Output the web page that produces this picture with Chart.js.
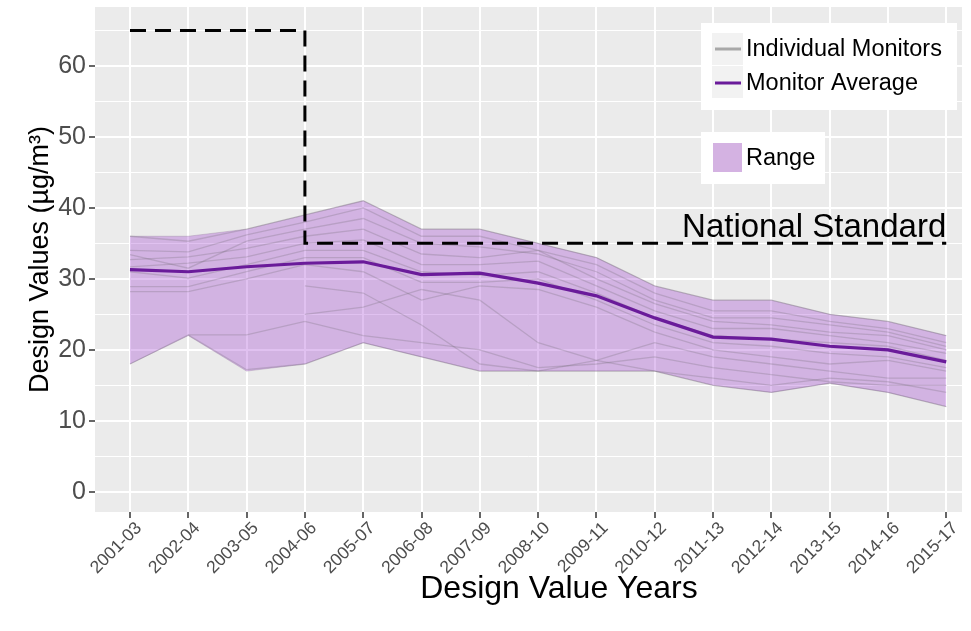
<!DOCTYPE html>
<html>
<head>
<meta charset="utf-8">
<script src="https://cdn.jsdelivr.net/npm/chart.js@4"></script>
<style>
  html, body { margin: 0; padding: 0; background: #fff; }
  #wrap { width: 971px; height: 631px; }
</style>
</head>
<body>
<div id="wrap"><canvas id="chart" width="971" height="631"></canvas></div>
<script>
const categories = ['2001-03', '2002-04', '2003-05', '2004-06', '2005-07', '2006-08', '2007-09', '2008-10',
  '2009-11', '2010-12', '2011-13', '2012-14', '2013-15', '2014-16', '2015-17'];

const monitorAverage = [31.3, 31.0, 31.7, 32.2, 32.4, 30.6, 30.8, 29.4, 27.6, 24.5, 21.8, 21.5, 20.5, 20.0, 18.3];
const rangeMax = [36, 36, 37, 39, 41, 37, 37, 35, 33, 29, 27, 27, 25, 24, 22];
const rangeMin = [18, 22, 17, 18, 21, 19, 17, 17, 17, 17, 15, 14, 15.3, 14, 12];
const nationalStandard = [65, 65, 65, 65, 35, 35, 35, 35, 35, 35, 35, 35, 35, 35, 35];

// individual monitors (null = no design value that period)
const monitor1 = [36, 35.3, 37, 39, 41, 37, 37, 35, 33, 29, 27, 27, 25, 24, 22];
const monitor2 = [34, 33.8, 36.2, 38, 40, 36, 36, 34, 32, 28, 25.5, 25.5, 24, 23, 21];
const monitor3 = [33.4, 31.5, 35.3, 37, 38.5, 35, 34.5, 33.5, 31, 27, 24.5, 24.5, 23.5, 22.5, 20.5];
const monitor4 = [32.7, 33.1, 34.3, 36, 37, 33.5, 33, 34, 30, 26.5, 24, 23.5, 22.5, 22, 20];
const monitor5 = [31.7, 32.2, 33.1, 35, 35.5, 32, 32, 32.5, 29, 25.5, 23, 23, 22, 21, 19.5];
const monitor6 = [31, 30.1, 32, 34, 34, 31, 30.5, 31, 28, 24.5, 22, 21.5, 21, 20.5, 18.5];
const monitor7 = [28.9, 28.9, 31, 33, 33, 29.5, 29.5, 30, 27, 23.5, 21, 20.5, 19.5, 19, 17.5];
const monitor8 = [28.2, 28.2, 30, 32, 31, 27, 29, 28.5, 26, 22.5, 20, 19, 18, 18.5, 17];
const monitor9 = [null, 22.1, 22.1, 24, 22, 21, 20, 17.5, 18, 19, 17.5, 16.5, 15.5, 15, 15];
const monitor10 = [null, null, null, 29, 28, 23.5, 18, 17, 18.5, 21, 19, 18, 17, 16, 16];
const monitor11 = [null, null, null, 25, 26, 28.5, 27, 21, 18.5, 17, 16, 15, 16, 15.5, 14];
const monitor12 = [18, 22.1, 17.2, 18, 21, 19, 17, 17, 17, 17, 15, 14, 15.3, 14, 12];
const monitors = [monitor1, monitor2, monitor3, monitor4, monitor5, monitor6, monitor7, monitor8,
  monitor9, monitor10, monitor11, monitor12];

const yTicks = [0, 5, 10, 15, 20, 25, 30, 35, 40, 45, 50, 55, 60, 65];

const FONT = "'Liberation Sans', Arial, sans-serif";
const toPoints = arr => arr.map((v, i) => ({ x: i, y: v }));

const datasets = [];
datasets.push({
  label: 'Standard', data: toPoints(nationalStandard), stepped: 'after',
  borderColor: '#000', borderWidth: 3, borderDash: [16, 9], pointRadius: 0, fill: false, order: 0
});
datasets.push({
  label: 'Monitor Average', data: toPoints(monitorAverage),
  borderColor: 'rgb(106,27,154)', borderWidth: 3.2, pointRadius: 0, fill: false, order: 1
});
monitors.forEach((m, i) => {
  datasets.push({
    label: 'Monitor ' + (i + 1), data: toPoints(m), spanGaps: false,
    borderColor: 'rgba(90,90,90,0.22)', borderWidth: 1.3, pointRadius: 0, fill: false, order: 2
  });
});
datasets.push({
  label: 'Range max', data: toPoints(rangeMax),
  borderColor: 'rgba(150,130,160,0.45)', borderWidth: 0.8, pointRadius: 0,
  fill: { target: '+1' }, backgroundColor: 'rgba(153,51,204,0.3)', order: 3
});
datasets.push({
  label: 'Range min', data: toPoints(rangeMin),
  borderColor: 'rgba(150,130,160,0.45)', borderWidth: 0.8, pointRadius: 0, fill: false, order: 3
});

const panelPlugin = {
  id: 'panel',
  beforeDraw(chart) {
    const { ctx, chartArea: a } = chart;
    ctx.save();
    ctx.fillStyle = '#EBEBEB';
    ctx.fillRect(a.left, a.top, a.right - a.left, a.bottom - a.top);
    ctx.restore();
  }
};

const annotationPlugin = {
  id: 'standardLabel',
  afterDatasetsDraw(chart) {
    const { ctx, scales } = chart;
    ctx.save();
    ctx.font = '33px ' + FONT;
    ctx.fillStyle = '#000';
    ctx.textAlign = 'right';
    ctx.textBaseline = 'alphabetic';
    ctx.fillText('National Standard', scales.x.getPixelForValue(14), scales.y.getPixelForValue(35) - 6);
    ctx.restore();
  }
};

const xTitlePlugin = {
  id: 'xTitle',
  afterDraw(chart) {
    const ctx = chart.ctx;
    ctx.save();
    ctx.font = '32px ' + FONT;
    ctx.fillStyle = '#000';
    ctx.textAlign = 'center';
    ctx.textBaseline = 'middle';
    ctx.fillText('Design Value Years', 559, 589);
    ctx.restore();
  }
};

const legendPlugin = {
  id: 'ggLegend',
  afterDraw(chart) {
    const ctx = chart.ctx;
    ctx.save();
    ctx.fillStyle = '#fff';
    ctx.fillRect(701, 23, 256, 87);
    ctx.fillRect(701, 132, 124, 52);
    ctx.fillStyle = '#F2F2F2';
    ctx.fillRect(712, 33, 31, 32);
    ctx.fillRect(712, 66, 31, 32);
    ctx.lineWidth = 3;
    ctx.strokeStyle = '#A8A8A8';
    ctx.beginPath(); ctx.moveTo(715, 49); ctx.lineTo(741, 49); ctx.stroke();
    ctx.strokeStyle = 'rgb(106,27,154)';
    ctx.beginPath(); ctx.moveTo(715, 83); ctx.lineTo(741, 83); ctx.stroke();
    ctx.fillStyle = 'rgb(212,178,226)';
    ctx.fillRect(713, 143, 29, 29);
    ctx.fillStyle = '#000';
    ctx.font = '23.5px ' + FONT;
    ctx.textAlign = 'left';
    ctx.textBaseline = 'middle';
    ctx.fillText('Individual Monitors', 746, 50);
    ctx.fillText('Monitor Average', 746, 84);
    ctx.fillText('Range', 746, 159);
    ctx.restore();
  }
};

new Chart(document.getElementById('chart'), {
  type: 'line',
  data: { datasets },
  plugins: [panelPlugin, annotationPlugin, xTitlePlugin, legendPlugin],
  options: {
    responsive: false,
    animation: false,
    layout: { padding: { top: 7, right: 9, left: 0, bottom: 0 } },
    plugins: { legend: { display: false }, tooltip: { enabled: false } },
    elements: { line: { tension: 0 } },
    scales: {
      x: {
        type: 'linear',
        min: -0.6,
        max: 14.27,
        afterBuildTicks: scale => { scale.ticks = categories.map((c, i) => ({ value: i })); },
        afterFit: scale => { scale.height = 119; scale.paddingLeft = 0; scale.paddingRight = 0; },
        ticks: {
          autoSkip: false,
          maxRotation: 45,
          minRotation: 45,
          padding: 0,
          labelOffset: 9,
          color: '#4D4D4D',
          font: { family: FONT, size: 17.5 },
          callback: v => categories[v]
        },
        grid: {
          color: '#FFFFFF',
          lineWidth: 2,
          tickLength: 6,
          tickColor: '#333333',
          tickWidth: 1.5
        },
        border: { display: false }
      },
      y: {
        min: -2.85,
        max: 68.3,
        afterBuildTicks: scale => { scale.ticks = yTicks.map(v => ({ value: v })); },
        afterFit: scale => { scale.width = 95; scale.paddingTop = 0; scale.paddingBottom = 0; },
        ticks: {
          padding: 3,
          color: '#4D4D4D',
          font: { family: FONT, size: 25 },
          callback: v => (v % 10 === 0 ? String(v) : '')
        },
        grid: {
          color: '#FFFFFF',
          lineWidth: ctx => (ctx.tick && ctx.tick.value % 10 === 0 ? 2 : 1),
          tickLength: 6,
          tickColor: ctx => (ctx.tick && ctx.tick.value % 10 === 0 ? '#333333' : 'rgba(0,0,0,0)'),
          tickWidth: 1.5
        },
        border: { display: false },
        title: {
          display: true,
          text: 'Design Values (\u00b5g/m\u00b3)',
          color: '#000',
          font: { family: FONT, size: 27 },
          padding: { top: 24, bottom: 0 }
        }
      }
    }
  }
});
</script>
</body>
</html>
